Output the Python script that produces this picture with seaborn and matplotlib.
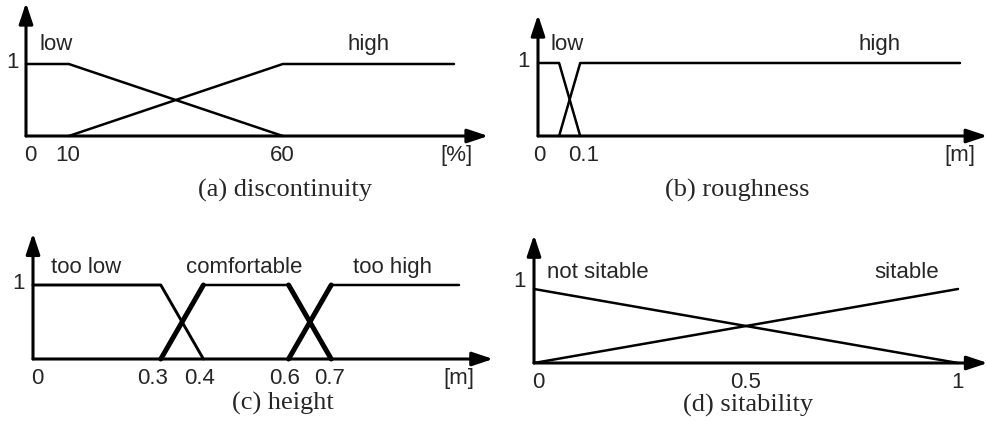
import matplotlib
matplotlib.use("Agg")
import matplotlib.pyplot as plt
import seaborn as sns
import pandas as pd

# membership functions
disc_low_x = [0, 10, 60]
disc_low_y = [1, 1, 0]
disc_high_x = [10, 60, 100]
disc_high_y = [0, 1, 1]

rough_low_x = [0, 0.05, 0.1]
rough_low_y = [1, 1, 0]
rough_high_x = [0.05, 0.1, 1.0]
rough_high_y = [0, 1, 1]

height_toolow_x = [0, 0.3, 0.4]
height_toolow_y = [1, 1, 0]
height_comf_x = [0.3, 0.4, 0.6, 0.7]
height_comf_y = [0, 1, 1, 0]
height_toohigh_x = [0.6, 0.7, 1.0]
height_toohigh_y = [0, 1, 1]

sit_not_x = [0, 1]
sit_not_y = [1, 0]
sit_yes_x = [0, 1]
sit_yes_y = [0, 1]

disc_ticks = [0, 10, 60]
disc_ticklabels = ["0", "10", "60"]
rough_ticks = [0, 0.1]
rough_ticklabels = ["0", "0.1"]
height_ticks = [0, 0.3, 0.4, 0.6, 0.7]
height_ticklabels = ["0", "0.3", "0.4", "0.6", "0.7"]
sit_ticks = [0, 0.5, 1]
sit_ticklabels = ["0", "0.5", "1"]

sns.set_style("white")
plt.rcParams['font.family'] = ['Liberation Sans', 'DejaVu Sans']

W, H = 987, 430
FS = 16
fig = plt.figure(figsize=(W / 100, H / 100), dpi=100)


def make_ax(x0, y0, px_x1, px_y1, xmax):
    # x0,y0 = pixel position of origin, px_x1 = pixel of x=xmax, px_y1 = pixel of y=1
    ax = fig.add_axes([x0 / W, (H - y0) / H, (px_x1 - x0) / W, (y0 - px_y1) / H])
    ax.set_xlim(0, xmax)
    ax.set_ylim(0, 1)
    ax.axis("off")
    return ax


def arrows(ax, xtip, ytip):
    kw = dict(arrowstyle="-|>,head_length=0.9,head_width=0.3", lw=2.2, color="black",
              shrinkA=0, shrinkB=0, mutation_scale=14)
    ax.annotate("", xy=(xtip, 0), xytext=(0, 0), arrowprops=kw, annotation_clip=False)
    ax.annotate("", xy=(0, ytip), xytext=(0, 0), arrowprops=kw, annotation_clip=False)


def line(ax, xs, ys, lw=1.8):
    df = pd.DataFrame({"x": xs, "y": ys})
    sns.lineplot(data=df, x="x", y="y", ax=ax, color="black", lw=lw,
                 sort=False, estimator=None, clip_on=False)


def ticks(ax, labels, dy, xpos, unit=None, unit_x=None):
    for xx, lab in zip(xpos, labels):
        ax.text(xx, dy, lab, ha="center", va="center", fontsize=FS, clip_on=False)
    if unit:
        ax.text(unit_x, dy, unit, ha="center", va="center", fontsize=FS, clip_on=False)


def label(ax, x, y, s):
    ax.text(x, y, s, ha="center", va="center", fontsize=FS, clip_on=False)


def caption(x, y, s):
    fig.text(x / W, 1 - y / H, s, ha="center", va="center", fontsize=19,
             family=["Liberation Serif", "DejaVu Serif"])


# (a) discontinuity
ax = make_ax(26, 136, 454, 64, 100)
line(ax, disc_low_x, disc_low_y)
line(ax, disc_high_x, disc_high_y)
arrows(ax, 108, 1.85)
ticks(ax, disc_ticklabels, -0.27, [0.9, 9.8, 59.8], "[%]", 100.7)
label(ax, -3.2, 1.02, "1")
label(ax, 7, 1.27, "low")
label(ax, 80, 1.27, "high")
caption(285, 190, "(a) discontinuity")

# (b) roughness
ax = make_ax(538, 136, 960, 63, 1.0)
line(ax, rough_low_x, rough_low_y)
line(ax, rough_high_x, rough_high_y)
arrows(ax, 1.065, 1.66)
ticks(ax, rough_ticklabels, -0.27, [0.003, 0.107], "[m]", 1.0)
label(ax, -0.035, 1.02, "1")
label(ax, 0.07, 1.25, "low")
label(ax, 0.81, 1.25, "high")
caption(737, 190, "(b) roughness")

# (c) height
ax = make_ax(33, 359, 459, 285, 1.0)
line(ax, height_toolow_x, height_toolow_y, lw=2.1)
line(ax, height_comf_x, height_comf_y)
line(ax, height_toohigh_x, height_toohigh_y)
# thick edges as in the original figure
line(ax, height_comf_x[:2], height_comf_y[:2], lw=3.6)
line(ax, height_comf_x[2:], height_comf_y[2:], lw=3.6)
line(ax, height_toohigh_x[:2], height_toohigh_y[:2], lw=3.6)
arrows(ax, 1.08, 1.70)
ticks(ax, height_ticklabels, -0.26, [0.01, 0.28, 0.39, 0.59, 0.695], "[m]", 1.0)
label(ax, -0.035, 1.02, "1")
label(ax, 0.125, 1.23, "too low")
label(ax, 0.495, 1.23, "comfortable")
label(ax, 0.845, 1.23, "too high")
caption(283, 403, "(c) height")

# (d) sitability
ax = make_ax(534, 363, 958, 289, 1.0)
line(ax, sit_not_x, sit_not_y)
line(ax, sit_yes_x, sit_yes_y)
arrows(ax, 1.07, 1.73)
ticks(ax, sit_ticklabels, -0.26, [0.01, 0.5, 1.0])
label(ax, -0.035, 1.1, "1")
label(ax, 0.15, 1.22, "not sitable")
label(ax, 0.88, 1.22, "sitable")
caption(748, 405, "(d) sitability")

fig.savefig("out.png", dpi=100)
